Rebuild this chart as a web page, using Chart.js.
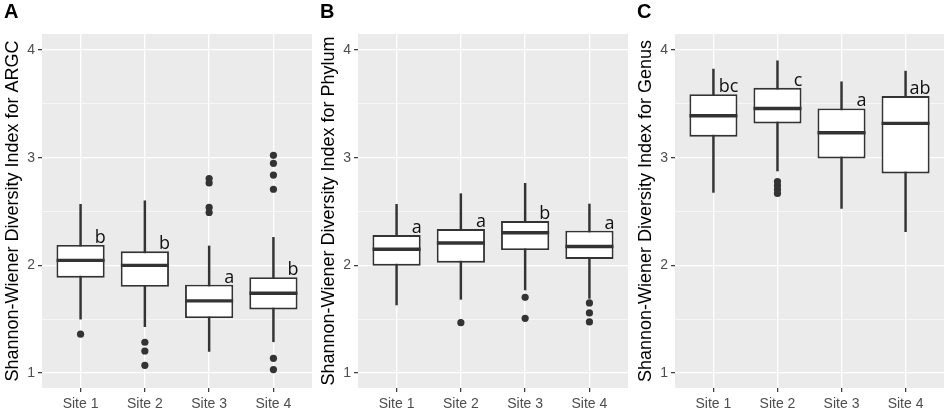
<!DOCTYPE html>
<html>
<head>
<meta charset="utf-8">
<script src="https://cdn.jsdelivr.net/npm/chart.js@4.4.0/dist/chart.umd.min.js"></script>
<style>
    html, body { margin: 0; padding: 0; background: #fff; }
    .panel { position: absolute; top: 0; height: 414px; }
</style>
</head>
<body>
<div class="panel" style="left:0;width:316px"><canvas id="chartA" width="316" height="414"></canvas></div>
<div class="panel" style="left:316px;width:316px"><canvas id="chartB" width="316" height="414"></canvas></div>
<div class="panel" style="left:633px;width:315px"><canvas id="chartC" width="315" height="414"></canvas></div>
<script>
var sites = ['Site 1', 'Site 2', 'Site 3', 'Site 4'];
var sitePos = [1, 2, 3, 4];
var yTickValues = [1, 1.5, 2, 2.5, 3, 3.5, 4];

// A: ARGC
var argcMin = [1.50, 1.43, 1.20, 1.29];
var argcQ1 = [1.885, 1.80, 1.51, 1.59];
var argcMedian = [2.046, 2.00, 1.67, 1.74];
var argcQ3 = [2.19, 2.13, 1.82, 1.89];
var argcMax = [2.567, 2.60, 2.18, 2.26];
var argcOutliers = [[1.36], [1.285, 1.204, 1.071], [2.807, 2.765, 2.538, 2.491], [3.022, 2.948, 2.839, 2.707, 1.136, 1.031]];
var argcLetters = ['b', 'b', 'a', 'b'];

// B: Phylum
var phylumMin = [1.632, 1.684, 1.771, 1.693];
var phylumQ1 = [1.997, 2.025, 2.142, 2.059];
var phylumMedian = [2.149, 2.207, 2.303, 2.175];
var phylumQ3 = [2.282, 2.337, 2.412, 2.322];
var phylumMax = [2.567, 2.666, 2.762, 2.570];
var phylumOutliers = [[], [1.467], [1.703, 1.508], [1.651, 1.558, 1.474]];
var phylumLetters = ['a', 'a', 'b', 'a'];

// C: Genus
var genusMin = [2.678, 2.877, 2.529, 2.313];
var genusQ1 = [3.195, 3.319, 2.994, 2.854];
var genusMedian = [3.390, 3.458, 3.232, 3.319];
var genusQ3 = [3.591, 3.650, 3.458, 3.573];
var genusMax = [3.824, 3.901, 3.706, 3.805];
var genusOutliers = [[], [2.779, 2.742, 2.705, 2.668], [], []];
var genusLetters = ['bc', 'c', 'a', 'ab'];

var inkColor = '#333333';
var tickColor = '#4D4D4D';
var panelBg = '#EBEBEB';

// 패널 배경 (ggplot 회색)
var panelBackground = {
    id: 'panelBackground',
    beforeDraw: function (chart) {
        var a = chart.chartArea;
        var ctx = chart.ctx;
        ctx.save();
        ctx.fillStyle = panelBg;
        ctx.fillRect(a.left, a.top, a.right - a.left, a.bottom - a.top);
        ctx.restore();
    },
};

// 유의성 문자 (a, b, c ...)
var letterLabels = {
    id: 'letterLabels',
    afterDatasetsDraw: function (chart, args, opts) {
        var ctx = chart.ctx;
        var xs = chart.scales.x;
        var ys = chart.scales.y;
        ctx.save();
        ctx.fillStyle = '#111';
        ctx.font = '18px "Open Sans"';
        ctx.textAlign = 'right';
        ctx.textBaseline = 'alphabetic';
        opts.letters.forEach(function (txt, i) {
            var x = xs.getPixelForValue(sitePos[i] + 0.39);
            var y = ys.getPixelForValue(opts.q3[i]) - 2;
            ctx.fillText(txt, x, y);
        });
        ctx.restore();
    },
};

function outlierPoints(outliers) {
    var pts = [];
    outliers.forEach(function (list, i) {
        list.forEach(function (v) {
            pts.push({ x: sitePos[i], y: v });
        });
    });
    return pts;
}

function createBoxChart(canvasId, panelLetter, yTitle, mins, q1, med, q3, maxs, outliers, letters) {
    var ctx = document.getElementById(canvasId).getContext('2d');
    return new Chart(ctx, {
        type: 'bar',
        data: {
            datasets: [
                {
                    // 수염
                    data: sitePos.map((p, i) => ({ x: p, y: [mins[i], maxs[i]] })),
                    backgroundColor: inkColor,
                    borderWidth: 0,
                    barThickness: 1.8,
                    grouped: false,
                    order: 4,
                },
                {
                    // 상자
                    data: sitePos.map((p, i) => ({ x: p, y: [q1[i], q3[i]] })),
                    backgroundColor: '#ffffff',
                    borderColor: inkColor,
                    borderWidth: 1.9,
                    borderSkipped: false,
                    barPercentage: 0.75,
                    categoryPercentage: 1,
                    grouped: false,
                    order: 3,
                },
                {
                    // 중앙값
                    type: 'line',
                    data: sitePos.map((p, i) => ({ x: p, y: med[i] })),
                    showLine: false,
                    pointStyle: 'line',
                    pointRadius: 24,
                    pointBorderWidth: 3.4,
                    pointBorderColor: inkColor,
                    order: 2,
                },
                {
                    // 이상치
                    type: 'line',
                    data: outlierPoints(outliers),
                    showLine: false,
                    pointStyle: 'circle',
                    pointRadius: 3.6,
                    pointBorderWidth: 0,
                    pointBackgroundColor: inkColor,
                    order: 1,
                },
            ],
        },
        options: {
            responsive: false,
            animation: false,
            events: [],
            layout: { autoPadding: false, padding: { left: 4, right: 4, top: 0, bottom: 0 } },
            scales: {
                x: {
                    type: 'linear',
                    min: 0.4,
                    max: 4.6,
                    offset: false,
                    afterBuildTicks: function (scale) {
                        scale.ticks = sitePos.map((v) => ({ value: v }));
                    },
                    afterFit: function (scale) {
                        scale.height = 26;
                        scale.paddingLeft = 0;
                        scale.paddingRight = 0;
                    },
                    ticks: {
                        callback: function (value) {
                            return sites[sitePos.indexOf(value)];
                        },
                        color: tickColor,
                        font: { family: '"Liberation Sans", Arial', size: 14 },
                        padding: 4,
                        maxRotation: 0,
                        autoSkip: false,
                    },
                    grid: {
                        offset: false,
                        color: '#ffffff',
                        lineWidth: 1.3,
                        tickColor: inkColor,
                        tickLength: 4,
                        tickWidth: 1.2,
                    },
                    border: { display: false },
                },
                y: {
                    type: 'linear',
                    min: 0.86,
                    max: 4.15,
                    afterBuildTicks: function (scale) {
                        scale.ticks = yTickValues.map((v) => ({ value: v }));
                    },
                    afterFit: function (scale) {
                        scale.width = 38;
                    },
                    ticks: {
                        callback: function (value) {
                            return Number.isInteger(value) ? String(value) : '';
                        },
                        color: tickColor,
                        font: { family: '"Liberation Sans", Arial', size: 14 },
                        padding: 3,
                    },
                    grid: {
                        color: '#ffffff',
                        lineWidth: (c) => (Number.isInteger(c.tick.value) ? 1.3 : 0.6),
                        tickColor: (c) => (Number.isInteger(c.tick.value) ? inkColor : 'rgba(0,0,0,0)'),
                        tickLength: 4,
                        tickWidth: 1.2,
                    },
                    border: { display: false },
                    title: {
                        display: true,
                        text: yTitle,
                        color: '#000',
                        font: { family: '"Liberation Sans", Arial', size: 18, lineHeight: 1 },
                        padding: { top: 0, bottom: 0 },
                    },
                },
            },
            plugins: {
                legend: { display: false },
                tooltip: { enabled: false },
                title: {
                    display: true,
                    text: panelLetter,
                    align: 'start',
                    color: '#000',
                    font: { family: '"Liberation Sans", Arial', size: 20, weight: 'bold', lineHeight: 1.2 },
                    padding: { top: 0, bottom: 10 },
                },
                letterLabels: { letters: letters, q3: q3 },
            },
        },
        plugins: [panelBackground, letterLabels],
    });
}

createBoxChart('chartA', 'A', 'Shannon-Wiener Diversity Index for ARGC',
    argcMin, argcQ1, argcMedian, argcQ3, argcMax, argcOutliers, argcLetters);
createBoxChart('chartB', 'B', 'Shannon-Wiener Diversity Index for Phylum',
    phylumMin, phylumQ1, phylumMedian, phylumQ3, phylumMax, phylumOutliers, phylumLetters);
createBoxChart('chartC', 'C', 'Shannon-Wiener Diversity Index for Genus',
    genusMin, genusQ1, genusMedian, genusQ3, genusMax, genusOutliers, genusLetters);
</script>
</body>
</html>
